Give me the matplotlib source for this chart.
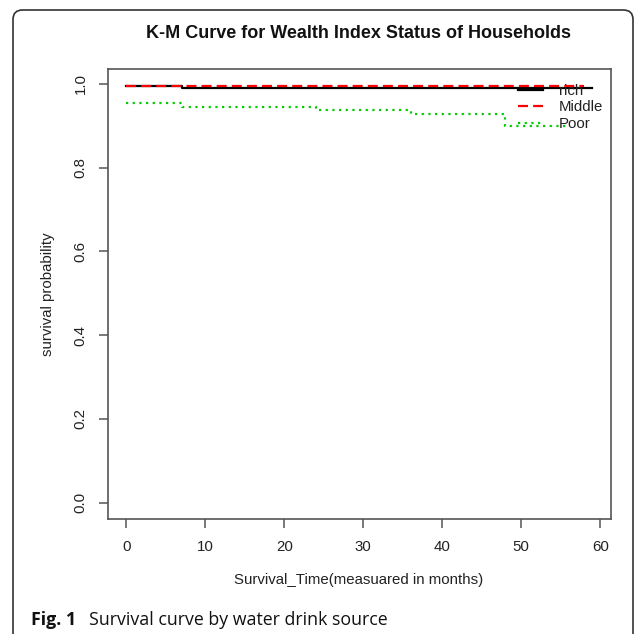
import matplotlib
matplotlib.use("Agg")
import matplotlib.pyplot as plt
from matplotlib.patches import FancyBboxPatch

# ---- data ----
groups = ["rich", "Middle", "Poor"]
rich_time = [0, 7, 59]
rich_surv = [0.996, 0.990, 0.990]
middle_time = [0, 58]
middle_surv = [0.996, 0.996]
poor_time = [0, 7, 24, 36, 48, 56]
poor_surv = [0.954, 0.946, 0.937, 0.928, 0.900, 0.900]
x_ticks = [0, 10, 20, 30, 40, 50, 60]
y_ticks = [0.0, 0.2, 0.4, 0.6, 0.8, 1.0]

W, H = 635, 634
fig = plt.figure(figsize=(W / 100, H / 100), dpi=100)
fig.patch.set_facecolor("white")

def fx(px):
    return px / W

def fy(py):
    return 1 - py / H

# outer rounded frame
frame = FancyBboxPatch((fx(13), fy(650)), fx(633) - fx(13), fy(10) - fy(650),
                       boxstyle="round,pad=0,rounding_size=0.015",
                       transform=fig.transFigure, fill=False,
                       edgecolor="#333333", linewidth=1.2)
fig.patches.append(frame)

left, right, top, bottom = 107.7, 611, 69.3, 519.3
ax = fig.add_axes([fx(left), fy(bottom), fx(right) - fx(left), fy(top) - fy(bottom)])

font = "Liberation Sans"
tc = "#222222"
fs = 10.8

ax.step(rich_time, rich_surv, where="post", color="black", lw=1.6, label=groups[0])
ax.step(middle_time, middle_surv, where="post", color="#ff0000", lw=1.6,
        linestyle=(0, (4.5, 2.3)), label=groups[1])
ax.step(poor_time, poor_surv, where="post", color="#00cc00", lw=1.6,
        linestyle=(0, (1, 2)), label=groups[2])

ax.set_xlim(-2.36, 61.36)
ax.set_ylim(-0.04, 1.035)
ax.set_xticks(x_ticks)
ax.set_yticks(y_ticks)
ax.set_xticklabels([str(v) for v in x_ticks], fontfamily=font, fontsize=fs, color=tc)
ax.set_yticklabels([f"{v:.1f}" for v in y_ticks], fontfamily=font, fontsize=fs,
                   color=tc, rotation=90, va="center")
ax.tick_params(axis="both", length=6.3, width=1.1, color="#555555", direction="out")
ax.tick_params(axis="x", pad=8.5)
ax.tick_params(axis="y", pad=8)
for s in ax.spines.values():
    s.set_color("#555555")
    s.set_linewidth(1.2)

fig.text(fx(358), fy(34), "K-M Curve for Wealth Index Status of Households",
         fontfamily=font, fontweight="bold", fontsize=13, color="#111111",
         ha="center", va="center")
fig.text(fx(359), fy(580), "Survival_Time(measuared in months)",
         fontfamily=font, fontsize=fs, color=tc, ha="center", va="center")
fig.text(fx(48), fy(294), "survival probability", rotation=90,
         fontfamily=font, fontsize=fs, color=tc, ha="center", va="center")

leg = ax.legend(loc="upper left", bbox_to_anchor=(fx(518), fy(84)),
                bbox_transform=fig.transFigure, frameon=False,
                prop={"family": font, "size": fs},
                handlelength=1.65, handletextpad=1.1, labelspacing=0.16,
                borderpad=0, borderaxespad=0)
for t in leg.get_texts():
    t.set_color(tc)

fig.text(fx(31), fy(620), "Fig. 1", fontfamily="Open Sans", fontweight="bold",
         fontsize=12.8, color="#111111", ha="left", va="center")
fig.text(fx(89), fy(620), "Survival curve by water drink source", fontfamily="Open Sans",
         fontsize=12.8, color="#111111", ha="left", va="center")

fig.savefig("out.png", dpi=100, facecolor="white")
